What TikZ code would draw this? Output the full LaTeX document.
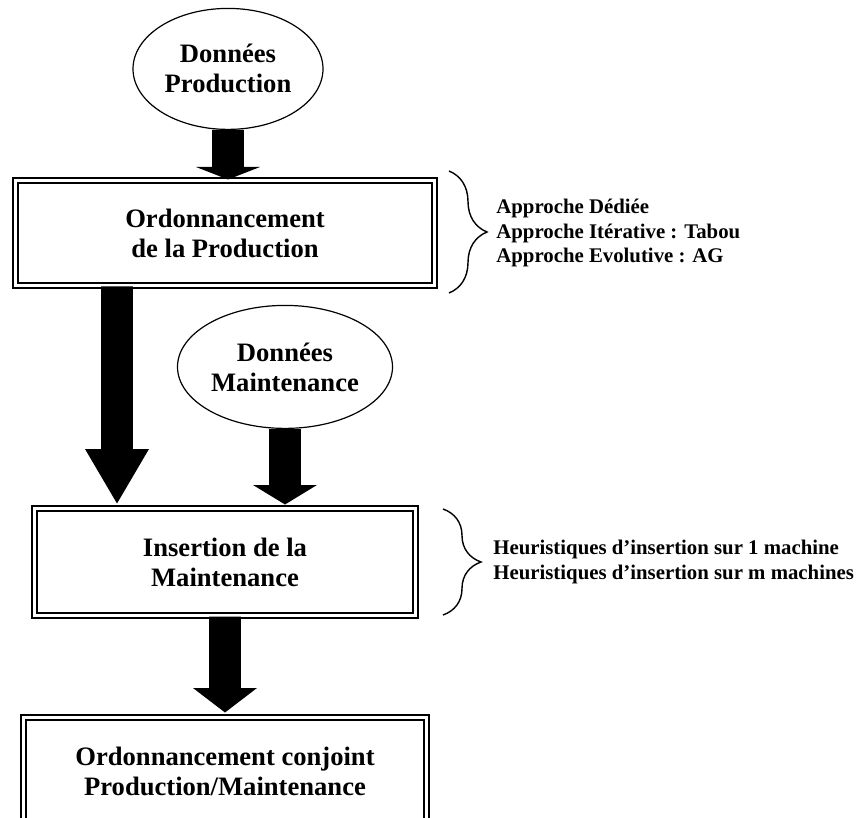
\documentclass[tikz,border=0pt]{standalone}
\usepackage{fontspec}
\setmainfont{Liberation Serif}
\usetikzlibrary{calc,positioning,shapes.geometric,decorations.pathreplacing}

\begin{document}
\begin{tikzpicture}[
		x=0.5pt, y=-0.5pt,
		box/.style={rectangle, draw, double, line width=1pt, double distance=1.5pt, fill=white, inner sep=0pt, text centered, align=center, font=\bfseries\fontsize{13.3}{15}\selectfont},
		datum/.style={ellipse, draw, line width=0.6pt, inner sep=0pt, align=center, font=\bfseries\fontsize{13.3}{15}\selectfont},
		note/.style={inner sep=0pt, align=left, font=\bfseries\fontsize{10.4}{12.2}\selectfont},
		sidebrace/.style={decorate, decoration={brace, amplitude=19pt}, line width=0.7pt},
		blockarrow/.style={fill=black, to path={let \p1=(\tikztostart), \p2=(\tikztotarget) in
			(\x1-7.9pt,\y1) -- (\x1-7.9pt,\y2+#1) -- (\x1-16pt,\y2+#1) -- (\x1,\y2)
			-- (\x1+16pt,\y2+#1) -- (\x1+7.9pt,\y2+#1) -- (\x1+7.9pt,\y1) -- cycle}},
		node distance=24.75pt
	]
	\useasboundingbox (0,0) rectangle (862,818);
	% Nodes
	\node[box, minimum width=209.5pt, minimum height=52.5pt] (op) at (225,233) {Ordonnancement\\de la Production};
	\node[datum, minimum width=95pt, minimum height=60.5pt, above=of op, xshift=1.5pt] (dp) {Données\\Production};
	\node[box, minimum width=190.5pt, minimum height=53.5pt, below=110.5pt of op] (mi) {Insertion de la\\Maintenance};
	\node[datum, minimum width=107.5pt, minimum height=61.5pt, above=39.25pt of mi, xshift=30pt] (dm) {Données\\Maintenance};
	\node[box, minimum width=201.5pt, minimum height=53.5pt, below=50pt of mi] (oc) {Ordonnancement conjoint\\Production/Maintenance};
	\node[note, right=30.25pt of op] (pn) {Approche Dédiée\\Approche Itérative : Tabou\\Approche Evolutive : AG};
	\node[note, right=38.25pt of mi] (mn) {Heuristiques d’insertion sur 1 machine\\Heuristiques d’insertion sur m machines};
	% Arrow ends
	\coordinate (lt) at ([xshift=-54pt]op.south);
	\coordinate (lb) at ([xshift=-54pt,yshift=2pt]mi.north);
	\coordinate (mt) at ([yshift=1.5pt]mi.north);
	\coordinate (ot) at ([yshift=2pt]oc.north);
	% Arrows
	\path[blockarrow=6.25pt] (dp.south) to (op.north);
	\path[blockarrow=27.25pt] (lt) to (lb);
	\path[blockarrow=9.75pt] (dm.south) to (mt);
	\path[blockarrow=12.25pt] (mi.south) to (ot);
	% Braces
	\draw[sidebrace] ([xshift=6.75pt,yshift=4.25pt]op.north east) -- ([xshift=6.75pt,yshift=-3.25pt]op.south east);
	\draw[sidebrace] ([xshift=13.25pt,yshift=-0.75pt]mi.north east) -- ([xshift=13.25pt,yshift=0.75pt]mi.south east);
\end{tikzpicture}
\end{document}
